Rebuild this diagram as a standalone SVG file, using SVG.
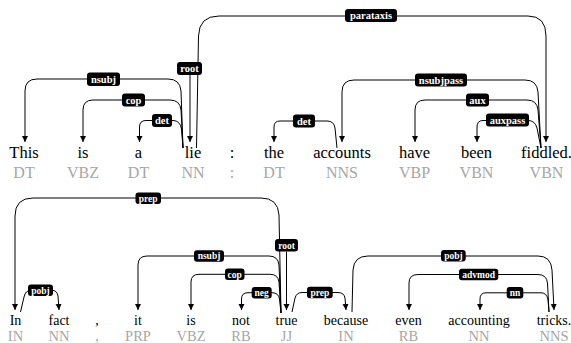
<svg xmlns="http://www.w3.org/2000/svg" width="571" height="343" viewBox="0 0 571 343" font-family="Liberation Serif, serif" style="font-family:'Liberation Serif',serif">
<defs>
<marker id="ah" markerUnits="userSpaceOnUse" markerWidth="8" markerHeight="8" refX="6" refY="3" orient="auto"><path d="M0,0 L6,3 L0,6 z" fill="#000"/></marker>
</defs>
<style>
.w1{font-size:16.5px;fill:#000;text-anchor:middle}
.t1{font-size:16px;fill:#a6a6a6;text-anchor:middle}
.w2{font-size:14px;fill:#000;text-anchor:middle}
.t2{font-size:14.5px;fill:#a6a6a6;text-anchor:middle}
.e{fill:none;stroke:#000;stroke-width:1}
.a{marker-end:url(#ah)}
.lb{fill:#000}
.l1{font-weight:bold;font-size:10.5px;fill:#fff;text-anchor:middle}
.l2{font-weight:bold;font-size:9.5px;fill:#fff;text-anchor:middle}
</style>
<rect width="571" height="343" fill="#fff"/>

<g id="connectors">
<path class="e a" d="M183,148 L181,91 Q180,79 168,79 H37 Q25,79 25,91 V142"/>
<path class="e a" d="M183,148 L181,110 Q180,100 170,100 H93 Q83,100 83,110 V142"/>
<path class="e a" d="M183,148 L181.5,129 Q180,120.5 173,120.5 H146 Q139.5,120.5 139.5,127 V142"/>
<path class="e a" d="M190,75 V142"/>
<path class="e a" d="M196.5,148 L198.5,36 Q199,16 219,16 H528 Q546,16 546,36 V142"/>
<path class="e a" d="M541,148 L538,92 Q537,80 525,80 H354 Q342,80 342,92 V142"/>
<path class="e a" d="M541,148 L538,110 Q537,100 527,100 H425 Q415,100 415,110 V142"/>
<path class="e a" d="M541,148 L537,128 Q535,120.5 528,120.5 H483 Q477,120.5 477,127 V142"/>
<path class="e a" d="M337,148 L335,128 Q334,121 327,121 H280 Q274,121 274,127 V142"/>
<path class="e a" d="M281,313 L279,215 Q278,198 261,198 H33 Q15,198 15,216 V310"/>
<path class="e a" d="M286.5,251.5 V310"/>
<path class="e a" d="M281,313 L279,265 Q278,256 269,256 H147 Q138,256 138,265 V310"/>
<path class="e a" d="M281,313 L279,282 Q278,274.3 270,274.3 H199 Q191,274.3 191,282 V310"/>
<path class="e a" d="M281,313 L279.5,299 Q278.5,292.7 272,292.7 H248 Q241.5,292.7 241.5,299 V310"/>
<path class="e a" d="M20.5,312 L24,297 Q25.5,290.3 31,290.3 H52 Q57,290.3 58,296 L59,310"/>
<path class="e a" d="M292,312 L295,298 Q296.5,292.5 302,292.5 H338 Q344,292.5 345,298 L346,310"/>
<path class="e a" d="M352,312 L353,270 Q354,256 368,256 H538 Q551,256 552,270 L554,310"/>
<path class="e a" d="M549,312 L547.5,283 Q546.5,274.5 538,274.5 H418 Q409,274.5 409,283 V310"/>
<path class="e a" d="M549,312 L548,300 Q547,292.8 541,292.8 H486 Q480,292.8 480,299 V310"/>
</g>

<g id="edge-labels">
<rect class="lb" x="177" y="62" width="25" height="13" rx="3"/><text class="l1" x="189.5" y="72">root</text>
<rect class="lb" x="87" y="72.5" width="33" height="13.5" rx="3"/><text class="l1" x="103.5" y="82.8">nsubj</text>
<rect class="lb" x="122" y="93.5" width="23" height="13" rx="3"/><text class="l1" x="133.5" y="103.5">cop</text>
<rect class="lb" x="152" y="114" width="20" height="13" rx="3"/><text class="l1" x="162" y="124">det</text>
<rect class="lb" x="345" y="9" width="52" height="13" rx="3"/><text class="l1" x="371" y="19">parataxis</text>
<rect class="lb" x="415" y="73.5" width="52" height="13" rx="3"/><text class="l1" x="441" y="83.5">nsubjpass</text>
<rect class="lb" x="466" y="93.5" width="23" height="13" rx="3"/><text class="l1" x="477.5" y="103.5">aux</text>
<rect class="lb" x="486" y="113.5" width="43" height="13" rx="3"/><text class="l1" x="507.5" y="123.5">auxpass</text>
<rect class="lb" x="293" y="114.5" width="22" height="13" rx="3"/><text class="l1" x="304" y="124.5">det</text>
<rect class="lb" x="135.5" y="192.5" width="25.5" height="11.5" rx="3"/><text class="l2" x="148.2" y="201.5">prep</text>
<rect class="lb" x="275" y="239" width="23" height="12.5" rx="3"/><text class="l2" x="286.5" y="248.5">root</text>
<rect class="lb" x="194" y="250.2" width="30" height="11.6" rx="3"/><text class="l2" x="209" y="259.3">nsubj</text>
<rect class="lb" x="225" y="268.4" width="19.5" height="11.6" rx="3"/><text class="l2" x="234.7" y="277.5">cop</text>
<rect class="lb" x="251.7" y="286.9" width="20" height="11.6" rx="3"/><text class="l2" x="261.7" y="296">neg</text>
<rect class="lb" x="28" y="284.6" width="25" height="11.4" rx="3"/><text class="l2" x="40.5" y="293.5">pobj</text>
<rect class="lb" x="307" y="286.7" width="25.7" height="11.6" rx="3"/><text class="l2" x="319.9" y="295.8">prep</text>
<rect class="lb" x="441" y="250" width="24.7" height="11.4" rx="3"/><text class="l2" x="453.4" y="259">pobj</text>
<rect class="lb" x="459" y="268.8" width="39.3" height="11.4" rx="3"/><text class="l2" x="478.7" y="277.8">advmod</text>
<rect class="lb" x="506.7" y="287.1" width="16.6" height="11.4" rx="3"/><text class="l2" x="515" y="296.1">nn</text>
</g>

<g id="w1-This"><text class="w1" x="24" y="158">This</text><text class="t1" x="24" y="178">DT</text></g>
<g id="w1-is"><text class="w1" x="83" y="158">is</text><text class="t1" x="83" y="178">VBZ</text></g>
<g id="w1-a"><text class="w1" x="138.5" y="158">a</text><text class="t1" x="138.5" y="178">DT</text></g>
<g id="w1-lie"><text class="w1" x="193" y="158">lie</text><text class="t1" x="193" y="178">NN</text></g>
<g id="w1-colon"><text class="w1" x="232" y="158">:</text><text class="t1" x="232" y="178">:</text></g>
<g id="w1-the"><text class="w1" x="274" y="158">the</text><text class="t1" x="274" y="178">DT</text></g>
<g id="w1-accounts"><text class="w1" x="342" y="158">accounts</text><text class="t1" x="342" y="178">NNS</text></g>
<g id="w1-have"><text class="w1" x="414.5" y="158">have</text><text class="t1" x="414.5" y="178">VBP</text></g>
<g id="w1-been"><text class="w1" x="476.5" y="158">been</text><text class="t1" x="476.5" y="178">VBN</text></g>
<g id="w1-fiddled"><text class="w1" x="546.5" y="158">fiddled.</text><text class="t1" x="546.5" y="178">VBN</text></g>

<g id="w2-In"><text class="w2" x="15.5" y="324.5">In</text><text class="t2" x="15.5" y="341">IN</text></g>
<g id="w2-fact"><text class="w2" x="59" y="324.5">fact</text><text class="t2" x="59" y="341">NN</text></g>
<g id="w2-comma"><text class="w2" x="97" y="324.5">,</text><text class="t2" x="97" y="341">,</text></g>
<g id="w2-it"><text class="w2" x="138" y="324.5">it</text><text class="t2" x="138" y="341">PRP</text></g>
<g id="w2-is"><text class="w2" x="191" y="324.5">is</text><text class="t2" x="191" y="341">VBZ</text></g>
<g id="w2-not"><text class="w2" x="241" y="324.5">not</text><text class="t2" x="241" y="341">RB</text></g>
<g id="w2-true"><text class="w2" x="286.5" y="324.5">true</text><text class="t2" x="286.5" y="341">JJ</text></g>
<g id="w2-because"><text class="w2" x="346" y="324.5">because</text><text class="t2" x="346" y="341">IN</text></g>
<g id="w2-even"><text class="w2" x="408.5" y="324.5">even</text><text class="t2" x="408.5" y="341">RB</text></g>
<g id="w2-accounting"><text class="w2" x="479" y="324.5">accounting</text><text class="t2" x="479" y="341">NN</text></g>
<g id="w2-tricks"><text class="w2" x="554" y="324.5">tricks.</text><text class="t2" x="554" y="341">NNS</text></g>
</svg>
